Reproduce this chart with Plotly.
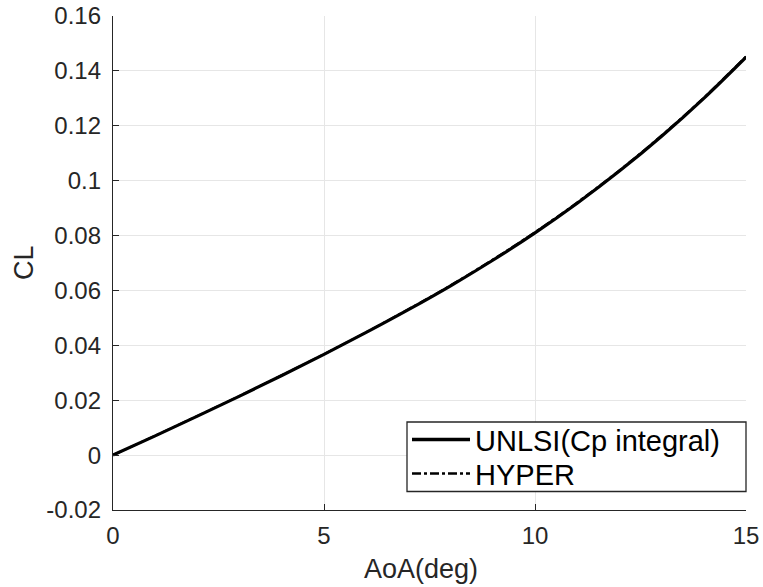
import plotly.graph_objects as go

aoa = [0, 1, 2, 3, 4, 5, 6, 7, 8, 9, 10, 11, 12, 13, 14, 15]
cl_unlsi = [0.0, 0.0070, 0.0142, 0.0215, 0.0290, 0.0367, 0.0447, 0.0530,
            0.0617, 0.0710, 0.0810, 0.0918, 0.1035, 0.1162, 0.1300, 0.1450]
cl_hyper = [0.0, 0.0071, 0.0143, 0.0216, 0.0291, 0.0368, 0.0448, 0.0532,
            0.0619, 0.0713, 0.0813, 0.0921, 0.1038, 0.1165, 0.1303, 0.1453]

x_ticks = [0, 5, 10, 15]
y_ticks = [-0.02, 0, 0.02, 0.04, 0.06, 0.08, 0.1, 0.12, 0.14, 0.16]
y_tick_text = ["-0.02", "0", "0.02", "0.04", "0.06", "0.08", "0.1", "0.12", "0.14", "0.16"]
series_names = ["UNLSI(Cp integral)", "HYPER"]

FONT = "Liberation Sans, Arial, sans-serif"
TXT = "#262626"

fig = go.Figure()
fig.add_trace(go.Scatter(x=aoa, y=cl_unlsi, mode="lines", name=series_names[0],
                         line=dict(color="black", width=3.2, shape="spline")))
fig.add_trace(go.Scatter(x=aoa, y=cl_hyper, mode="lines", name=series_names[1],
                         line=dict(color="black", width=2, dash="dashdot", shape="spline")))

axis_common = dict(
    showline=True, linecolor=TXT, linewidth=1.3,
    ticks="inside", ticklen=6, tickcolor=TXT, tickwidth=1.3,
    showgrid=True, gridcolor="#e6e6e6", gridwidth=1,
    zeroline=False, mirror=False, automargin=False,
    tickfont=dict(family=FONT, size=24, color=TXT),
)

fig.update_layout(
    width=763, height=587,
    margin=dict(l=113, r=17, t=16, b=77, autoexpand=False),
    paper_bgcolor="white", plot_bgcolor="white",
    xaxis=dict(range=[0, 15], tickvals=x_ticks, ticklabelstandoff=4, **axis_common),
    yaxis=dict(range=[-0.02, 0.16], tickvals=y_ticks, ticktext=y_tick_text,
               ticklabelstandoff=6, **axis_common),
    showlegend=False,
)

# axis titles
fig.add_annotation(text="AoA(deg)", xref="paper", yref="paper",
                   x=(421 - 113) / 633, y=(510 - 569) / 494,
                   xanchor="center", yanchor="middle", showarrow=False,
                   font=dict(family=FONT, size=27, color=TXT))
fig.add_annotation(text="CL", xref="paper", yref="paper",
                   x=(24 - 113) / 633, y=(510 - 263) / 494, textangle=-90,
                   xanchor="center", yanchor="middle", showarrow=False,
                   font=dict(family=FONT, size=27, color=TXT))

# legend box (south-east)
def px_x(p):
    return (p - 113) / 633

def px_y(p):
    return (510 - p) / 494

fig.add_shape(type="rect", xref="paper", yref="paper",
              x0=px_x(407), x1=px_x(746), y0=px_y(491.5), y1=px_y(422),
              line=dict(color=TXT, width=1.3), fillcolor="white", layer="above")
legend_rows = [(439.5, "solid", 3.4), (473.5, "dashdot", 2.6)]
for (ry, dash, w), name in zip(legend_rows, series_names):
    fig.add_shape(type="line", xref="paper", yref="paper",
                  x0=px_x(412), x1=px_x(470), y0=px_y(ry), y1=px_y(ry),
                  line=dict(color="black", width=w, dash=dash), layer="above")
    fig.add_annotation(text=name, xref="paper", yref="paper",
                       x=px_x(473), y=px_y(ry + 1.5), xanchor="left", yanchor="middle",
                       showarrow=False, font=dict(family=FONT, size=29, color="black"))

fig.write_html("out.html")
